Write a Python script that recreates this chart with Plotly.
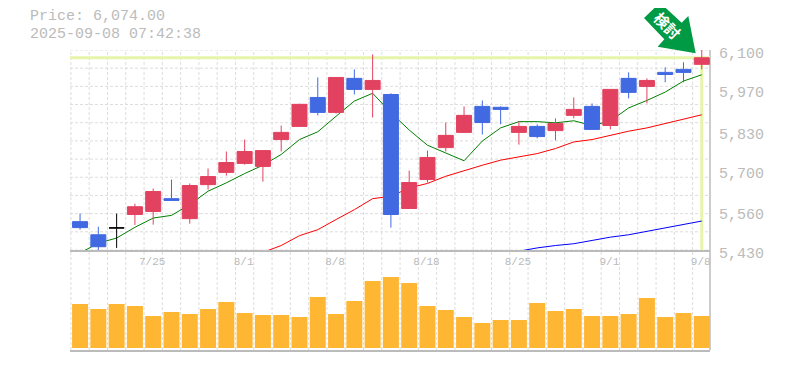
import plotly.graph_objects as go

dates = ["7/18","7/22","7/23","7/24","7/25","7/28","7/29","7/30","7/31","8/1","8/4","8/5","8/6","8/7","8/8",
         "8/12","8/13","8/14","8/15","8/18","8/19","8/20","8/21","8/22","8/25","8/26","8/27","8/28","8/29",
         "9/1","9/2","9/3","9/4","9/5","9/8"]
tick_labels = ["7/25","8/1","8/8","8/18","8/25","9/1","9/8"]
price_ticks = [6100,5970,5830,5700,5560,5430]
current_price = 6074

highs  = [5552,5508,5552,5585,5636,5666,5653,5703,5760,5800,5763,5847,5920,6008,6008,6035,6085,5955,5696,5763,
          5857,5911,5931,5911,5861,5851,5871,5941,5921,5968,6025,6005,6042,6059,6102]
body_top = [5525,5481,5504,5575,5626,5602,5646,5676,5723,5760,5763,5824,5918,5941,6008,6005,5998,5951,5656,5740,
          5814,5881,5911,5908,5844,5844,5854,5901,5911,5968,6005,5998,6025,6035,6074]
body_bot = [5505,5441,5504,5549,5559,5596,5535,5649,5690,5720,5710,5800,5844,5891,5891,5968,5968,5549,5569,5666,
          5773,5824,5857,5901,5824,5810,5830,5881,5834,5847,5958,5978,6018,6025,6052]
lows   = [5498,5429,5437,5514,5515,5596,5518,5632,5679,5716,5659,5760,5844,5881,5887,5951,5874,5505,5569,5656,
          5760,5824,5817,5851,5783,5804,5797,5871,5834,5834,5938,5921,5992,5992,6035]
# +1 close above open, -1 close below open, 0 unchanged
direction = [-1,-1,0,1,1,-1,1,1,1,1,1,1,1,-1,1,-1,1,-1,1,1,1,1,-1,-1,1,-1,1,1,-1,1,-1,1,-1,-1,1]

ma_short = [5420,5453,5470,5506,5537,5546,5582,5627,5655,5686,5714,5750,5800,5826,5878,5929,5955,5890,5832,5781,
            5755,5729,5795,5839,5860,5860,5856,5863,5847,5862,5906,5931,5959,5996,6017]
ma_mid = [None]*10 + [5422,5445,5478,5498,5532,5565,5602,5610,5638,5653,5677,5696,5714,5731,5742,5753,5770,5792,
                      5800,5814,5828,5839,5854,5870,5883]
ma_long = [None]*24 + [5426,5437,5445,5451,5462,5473,5481,5493,5504,5515,5527]
volumes = [440,390,440,420,320,360,340,390,460,350,330,330,310,510,340,470,670,710,650,420,380,310,250,280,280,450,
           370,390,320,320,340,500,310,350,320]

UP, DOWN, FLAT = "#E2425F", "#4169E1", "#000000"
GRID, AXIS, TEXT = "#DDDDDD", "#BBBBBB", "#BBBBBB"
MONO = "Liberation Mono"
idx = list(range(len(dates)))
xr = [-0.55, 34.45]
yr = [5430, 6100]

fig = go.Figure()

# Current-price guides
fig.add_trace(go.Scatter(x=[xr[0], xr[1]], y=[current_price]*2, mode="lines",
                         line=dict(color="#E6F5A9", width=3), xaxis="x", yaxis="y", hoverinfo="skip"))
fig.add_trace(go.Scatter(x=[idx[-1]]*2, y=[yr[0], current_price], mode="lines",
                         line=dict(color="#E6F5A9", width=3), xaxis="x", yaxis="y", hoverinfo="skip"))
# Moving averages (behind candles)
for vals, col in [(ma_short, "#008000"), (ma_mid, "#FF0000"), (ma_long, "#0000FF")]:
    fig.add_trace(go.Scatter(x=idx, y=vals, mode="lines", line=dict(color=col, width=1),
                             cliponaxis=False, xaxis="x", yaxis="y"))

# Candles on an overlaid axis so they sit above the lines
for sign, col in [(1, UP), (-1, DOWN), (0, FLAT)]:
    sel = [i for i in idx if direction[i] == sign]
    op = [body_bot[i] if sign >= 0 else body_top[i] for i in sel]
    cl = [body_top[i] if sign >= 0 else body_bot[i] for i in sel]
    style = dict(line=dict(color=col, width=1), fillcolor=col)
    fig.add_trace(go.Candlestick(x=sel, open=op, high=[highs[i] for i in sel], low=[lows[i] for i in sel], close=cl,
                                 increasing=style, decreasing=style, whiskerwidth=0,
                                 xaxis="x", yaxis="y3"))

fig.add_trace(go.Bar(x=idx, y=volumes, marker=dict(color="#FFB733", line=dict(width=0)), width=0.875,
                     xaxis="x2", yaxis="y2"))

shapes = []
for i in range(len(dates)+1):
    shapes.append(dict(type="line", xref="x", yref="paper", x0=i-0.5, x1=i-0.5, y0=0, y1=1, layer="below",
                       line=dict(color=GRID, width=1, dash="3px,2px")))
for k in range(12):
    v = yr[1] - k*(yr[1]-yr[0])/11
    shapes.append(dict(type="line", xref="paper", yref="y", x0=0, x1=1, y0=v, y1=v, layer="below",
                       line=dict(color=GRID, width=1, dash="3px,2px")))
# Continuous right-hand frame line
shapes.append(dict(type="line", xref="paper", yref="paper", x0=1, x1=1, y0=0, y1=1, layer="below",
                   line=dict(color=AXIS, width=1.5)))
# Arrow badge
shapes.append(dict(type="path", xref="paper", yref="paper", layer="below", line=dict(width=0), fillcolor="#009944",
                   path="M %f %f L %f %f L %f %f L %f %f L %f %f L %f %f L %f %f Z" % tuple(
                       c for p in [(660,2.7),(644,18),(664.3,39.3),(657.7,46.7),(695.7,53.3),(688.3,16),(681.7,22.7)]
                       for c in ((p[0]-70)/640, (350-p[1])/300))))

annotations = [
    dict(text="Price: 6,074.00", xref="paper", yref="paper", x=(28-70)/640, y=(350-17)/300, xanchor="left", yanchor="middle",
         showarrow=False, font=dict(family=MONO, size=15, color=TEXT)),
    dict(text="2025-09-08 07:42:38", xref="paper", yref="paper", x=(28-70)/640, y=(350-34)/300, xanchor="left", yanchor="middle",
         showarrow=False, font=dict(family=MONO, size=15, color=TEXT)),
    dict(text="<b>検討</b>", xref="paper", yref="paper", x=(668-70)/640, y=(350-25)/300, xanchor="center", yanchor="middle",
         textangle=45, showarrow=False, font=dict(family="Noto Sans CJK JP", size=15, color="#FFFFFF")),
]

fig.update_layout(
    width=769, height=354, autosize=False, showlegend=False,
    margin=dict(l=62, r=67, t=42, b=12, pad=0, autoexpand=False),
    paper_bgcolor="white", plot_bgcolor="rgba(0,0,0,0)",
    shapes=shapes, annotations=annotations, hovermode=False,
    boxgap=0.18, boxgroupgap=0, boxmode="overlay",
    xaxis=dict(domain=[0, 1], anchor="y", range=xr, tickmode="array",
               tickvals=[dates.index(t) for t in tick_labels], ticktext=tick_labels,
               showgrid=False, zeroline=False, showline=True, linecolor=AXIS, linewidth=1.5, ticks="",
               ticklabeloverflow="allow", ticklabelshift=-1,
               rangeslider=dict(visible=False), tickfont=dict(family=MONO, size=11, color=TEXT)),
    yaxis=dict(domain=[1/3, 1], anchor="x", range=yr, side="right", tickmode="array", tickvals=price_ticks,
               ticktext=[f"{v:,}" for v in price_ticks], showgrid=False, zeroline=False, showline=False,
               ticks="", ticklabelshift=3, ticklabelstandoff=8,
               ticklabeloverflow="allow", tickfont=dict(family=MONO, size=15, color=TEXT)),
    yaxis3=dict(overlaying="y", range=yr, side="right", showticklabels=False, showgrid=False, zeroline=False,
                anchor="x"),
    xaxis2=dict(domain=[0, 1], anchor="y2", range=xr, showticklabels=False, showgrid=False, zeroline=False,
                showline=True, linecolor=AXIS, linewidth=2, ticks=""),
    yaxis2=dict(domain=[0, 0.3], anchor="x2", range=[-20, 880], side="right", showticklabels=False, showgrid=False,
                zeroline=False, showline=False, ticks=""),
)
fig.write_html("out.html", config=dict(displayModeBar=False))
